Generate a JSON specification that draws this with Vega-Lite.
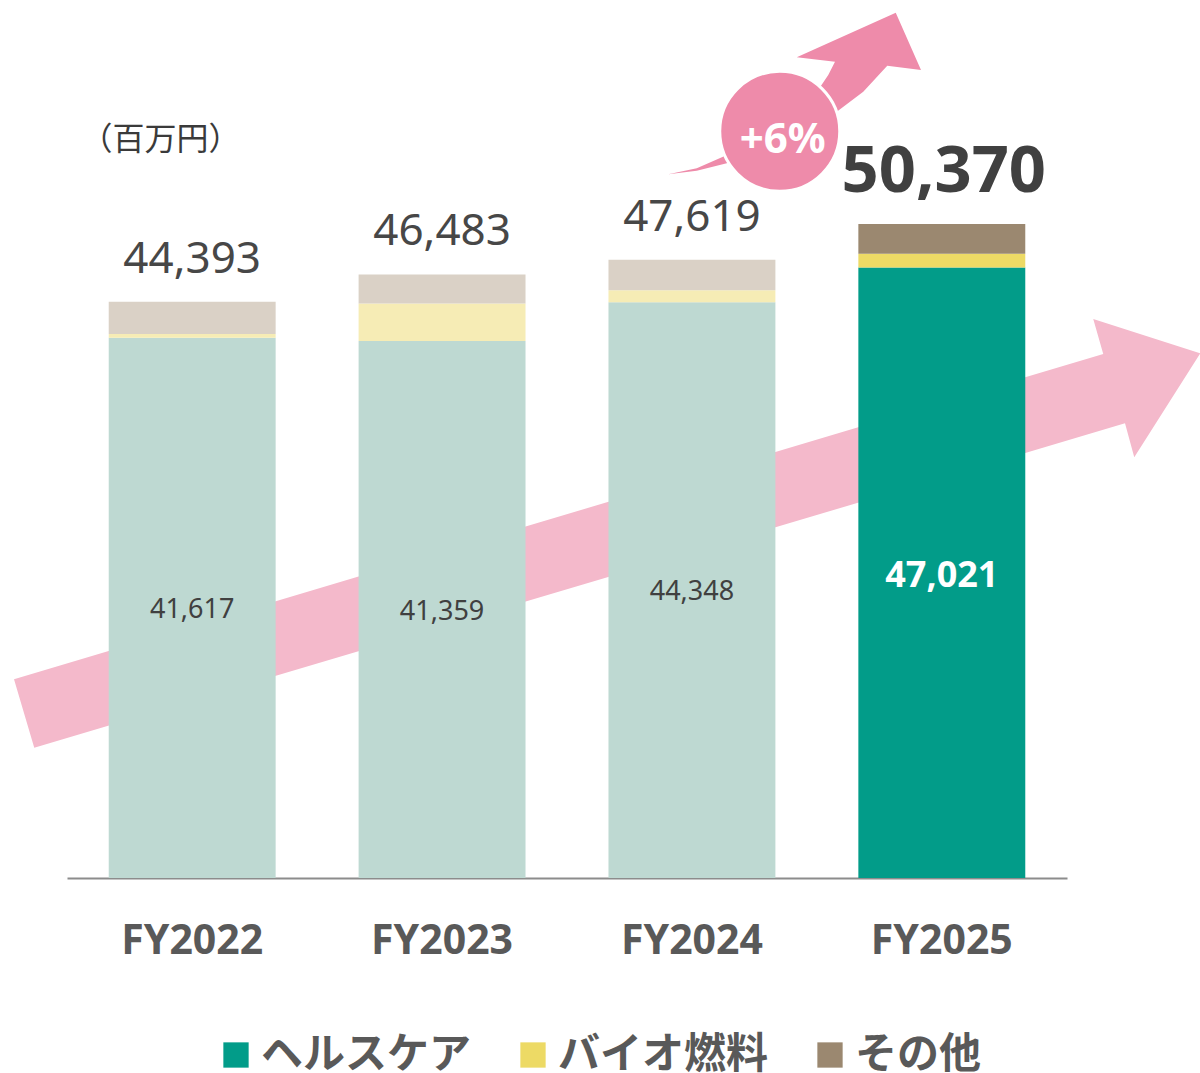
{
  "$schema": "https://vega.github.io/schema/vega-lite/v6.json",
  "width": 1000,
  "height": 779,
  "autosize": {"type": "none"},
  "padding": {"left": 67, "top": 99, "right": 133, "bottom": 195},
  "background": "white",
  "config": {"view": {"stroke": null}, "font": "Noto Sans"},
  "datasets": {
    "sales": [
      {"year": "FY2022", "category": "ヘルスケア", "value": 41617},
      {"year": "FY2022", "category": "バイオ燃料", "value": 286},
      {"year": "FY2022", "category": "その他", "value": 2490},
      {"year": "FY2023", "category": "ヘルスケア", "value": 41359},
      {"year": "FY2023", "category": "バイオ燃料", "value": 2890},
      {"year": "FY2023", "category": "その他", "value": 2234},
      {"year": "FY2024", "category": "ヘルスケア", "value": 44348},
      {"year": "FY2024", "category": "バイオ燃料", "value": 921},
      {"year": "FY2024", "category": "その他", "value": 2350},
      {"year": "FY2025", "category": "ヘルスケア", "value": 47021},
      {"year": "FY2025", "category": "バイオ燃料", "value": 1059},
      {"year": "FY2025", "category": "その他", "value": 2290}
    ],
    "totals": [
      {"year": "FY2022", "total": 44393},
      {"year": "FY2023", "total": 46483},
      {"year": "FY2024", "total": 47619},
      {"year": "FY2025", "total": 50370}
    ],
    "bigArrow": [
      {"i": 1, "x": -0.212, "y": 15303},
      {"i": 2, "x": 4.145, "y": 40357},
      {"i": 3, "x": 4.105, "y": 43053},
      {"i": 4, "x": 4.533, "y": 40411},
      {"i": 5, "x": 4.269, "y": 32401},
      {"i": 6, "x": 4.232, "y": 35020},
      {"i": 7, "x": -0.131, "y": 10035}
    ],
    "topArrow": [
      {"i": 1, "x": 2.405, "y": 54198},
      {"i": 2, "x": 2.519, "y": 54660},
      {"i": 3, "x": 2.624, "y": 55553},
      {"i": 4, "x": 3.012, "y": 60898},
      {"i": 5, "x": 3.045, "y": 61845},
      {"i": 6, "x": 3.072, "y": 62870},
      {"i": 7, "x": 2.919, "y": 63209},
      {"i": 8, "x": 3.315, "y": 66644},
      {"i": 9, "x": 3.416, "y": 62231},
      {"i": 10, "x": 3.281, "y": 62561},
      {"i": 11, "x": 3.185, "y": 60559},
      {"i": 12, "x": 3.079, "y": 59019},
      {"i": 13, "x": 2.639, "y": 55045},
      {"i": 14, "x": 2.519, "y": 54475}
    ],
    "badge": [
      {"x": 2.851, "y": 57509, "tx": 2.863, "ty": 55815, "label": "+6%"}
    ]
  },
  "layer": [
    {
      "data": {"name": "bigArrow"},
      "mark": {"type": "line", "interpolate": "linear-closed", "filled": true, "color": "#F4B9CB", "strokeWidth": 0, "clip": false},
      "encoding": {
        "x": {"field": "x", "type": "quantitative", "scale": {"domain": [0, 4], "nice": false, "zero": false}, "axis": null},
        "y": {"field": "y", "type": "quantitative", "scale": {"domain": [0, 60000], "nice": false}, "axis": null},
        "order": {"field": "i", "type": "quantitative"}
      }
    },
    {
      "layer": [
        {
          "data": {"name": "sales"},
          "transform": [
            {"calculate": "datum.year === 'FY2025' ? datum.category : datum.category + '（過年度）'", "as": "shade"},
            {"calculate": "indexof(['ヘルスケア','バイオ燃料','その他'], datum.category)", "as": "k"}
          ],
          "mark": {"type": "bar"},
          "encoding": {
            "x": {
              "field": "year", "type": "nominal",
              "scale": {"paddingInner": 0.332, "paddingOuter": 0.167},
              "axis": {
                "title": null, "labelAngle": 0, "ticks": false, "tickSize": 0,
                "labelPadding": 75, "labelBaseline": "alphabetic",
                "labelFont": "Noto Sans", "labelFontSize": 41, "labelFontWeight": "bold", "labelColor": "#595959",
                "domainColor": "#8c8c8c", "domainWidth": 2, "grid": false
              }
            },
            "y": {
              "field": "value", "type": "quantitative", "stack": "zero",
              "scale": {"domain": [0, 60000], "nice": false},
              "axis": {
                "title": "（百万円）", "titleAngle": 0, "titleX": 93, "titleY": 40,
                "titleAlign": "center", "titleBaseline": "middle",
                "titleFont": "Noto Sans CJK JP", "titleFontSize": 32, "titleFontWeight": "normal", "titleColor": "#3a3a3a",
                "labels": false, "ticks": false, "domain": false, "grid": false
              }
            },
            "color": {
              "field": "shade", "type": "nominal",
              "scale": {
                "domain": ["ヘルスケア", "バイオ燃料", "その他", "ヘルスケア（過年度）", "バイオ燃料（過年度）", "その他（過年度）"],
                "range": ["#029C89", "#EDDA65", "#9B8870", "#BED9D2", "#F6ECB5", "#DAD1C6"]
              },
              "legend": {
                "values": ["ヘルスケア", "バイオ燃料", "その他"],
                "title": null, "orient": "none", "direction": "horizontal",
                "legendX": 148, "legendY": 935,
                "symbolType": "square", "symbolSize": 640, "symbolStrokeWidth": 0,
                "labelFont": "Noto Sans CJK JP", "labelFontSize": 42, "labelFontWeight": "bold", "labelColor": "#595959",
                "labelOffset": 4, "columnPadding": 40, "padding": 0, "labelLimit": 400
              }
            },
            "order": {"field": "k", "type": "quantitative"}
          }
        },
        {
          "data": {"name": "totals"},
          "transform": [{"filter": "datum.year !== 'FY2025'"}],
          "mark": {"type": "text", "fontSize": 44, "color": "#474747", "baseline": "alphabetic", "align": "center", "dy": -29, "font": "Noto Sans"},
          "encoding": {
            "x": {"field": "year", "type": "nominal"},
            "y": {"field": "total", "type": "quantitative"},
            "text": {"field": "total", "type": "quantitative", "format": ","}
          }
        },
        {
          "data": {"name": "totals"},
          "transform": [{"filter": "datum.year === 'FY2025'"}],
          "mark": {"type": "text", "fontSize": 65, "fontWeight": "bold", "color": "#404040", "baseline": "alphabetic", "align": "center", "dy": -32, "dx": 2, "font": "Noto Sans"},
          "encoding": {
            "x": {"field": "year", "type": "nominal"},
            "y": {"field": "total", "type": "quantitative"},
            "text": {"field": "total", "type": "quantitative", "format": ","}
          }
        },
        {
          "data": {"name": "sales"},
          "transform": [
            {"filter": "datum.category === 'ヘルスケア' && datum.year !== 'FY2025'"},
            {"calculate": "datum.value / 2", "as": "mid"}
          ],
          "mark": {"type": "text", "fontSize": 27, "color": "#404040", "baseline": "middle", "align": "center", "dy": 2, "font": "Noto Sans"},
          "encoding": {
            "x": {"field": "year", "type": "nominal"},
            "y": {"field": "mid", "type": "quantitative"},
            "text": {"field": "value", "type": "quantitative", "format": ","}
          }
        },
        {
          "data": {"name": "sales"},
          "transform": [
            {"filter": "datum.category === 'ヘルスケア' && datum.year === 'FY2025'"},
            {"calculate": "datum.value / 2", "as": "mid"}
          ],
          "mark": {"type": "text", "fontSize": 36, "fontWeight": "bold", "color": "white", "baseline": "middle", "align": "center", "dy": 3, "font": "Noto Sans"},
          "encoding": {
            "x": {"field": "year", "type": "nominal"},
            "y": {"field": "mid", "type": "quantitative"},
            "text": {"field": "value", "type": "quantitative", "format": ","}
          }
        }
      ]
    },
    {
      "layer": [
        {
          "data": {"name": "topArrow"},
          "mark": {"type": "line", "interpolate": "linear-closed", "filled": true, "color": "#EE8BAA", "strokeWidth": 0, "clip": false},
          "encoding": {
            "x": {"field": "x", "type": "quantitative", "scale": {"domain": [0, 4], "nice": false, "zero": false}, "axis": null},
            "y": {"field": "y", "type": "quantitative", "scale": {"domain": [0, 60000], "nice": false}, "axis": null},
            "order": {"field": "i", "type": "quantitative"}
          }
        },
        {
          "data": {"name": "badge"},
          "mark": {"type": "point", "shape": "circle", "filled": true, "size": 14400, "color": "#EE8BAA", "stroke": "white", "strokeWidth": 3, "opacity": 1, "clip": false},
          "encoding": {
            "x": {"field": "x", "type": "quantitative"},
            "y": {"field": "y", "type": "quantitative"}
          }
        },
        {
          "data": {"name": "badge"},
          "mark": {"type": "text", "fontSize": 42, "fontWeight": "bold", "color": "white", "align": "center", "baseline": "alphabetic", "font": "Noto Sans", "clip": false},
          "encoding": {
            "x": {"field": "tx", "type": "quantitative"},
            "y": {"field": "ty", "type": "quantitative"},
            "text": {"field": "label", "type": "nominal"}
          }
        }
      ]
    }
  ],
  "resolve": {"scale": {"x": "independent", "y": "independent", "color": "independent"}}
}
